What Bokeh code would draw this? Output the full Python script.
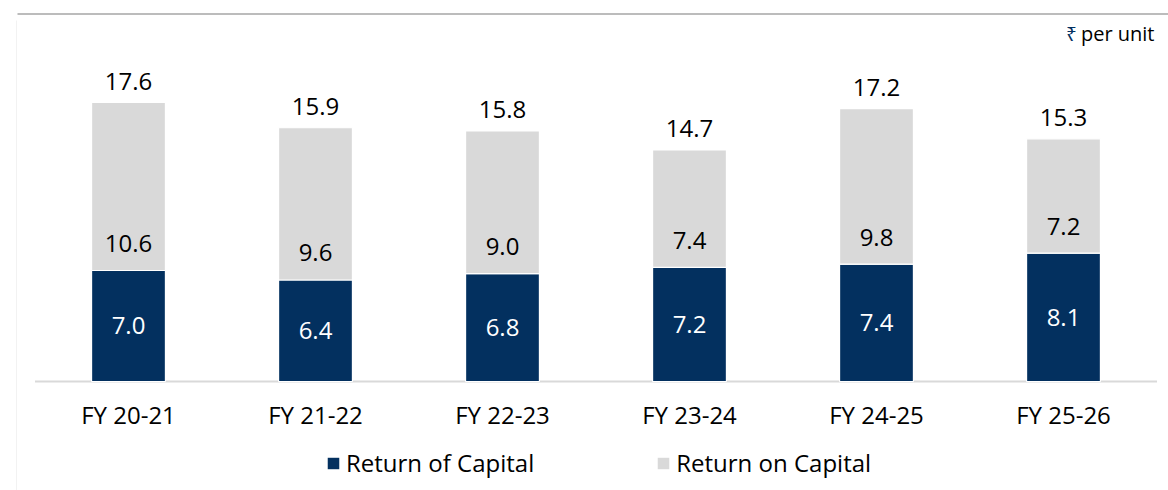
from bokeh.plotting import figure
from bokeh.models import ColumnDataSource, Range1d, FixedTicker, Label, Legend
from bokeh.core.properties import value
from bokeh.embed import file_html
from bokeh.resources import INLINE

categories = ["FY 20-21", "FY 21-22", "FY 22-23", "FY 23-24", "FY 24-25", "FY 25-26"]
return_of_capital = [7.0, 6.4, 6.8, 7.2, 7.4, 8.1]
return_on_capital = [10.6, 9.6, 9.0, 7.4, 9.8, 7.2]
totals = [17.6, 15.9, 15.8, 14.7, 17.2, 15.3]

NAVY = "#03305F"
GRAY = "#D9D9D9"
FONT = "Open Sans"

W, H = 1168, 490
zero_px = 381.0          # screen row of the value 0
px_per_unit = 15.86
cat_px = 187.0
first_center = 128.0

xs = list(range(len(categories)))
tops = [a + b for a, b in zip(return_of_capital, return_on_capital)]
src = ColumnDataSource(dict(
    x=xs,
    roc=return_of_capital,
    ron=return_on_capital,
    roc_mid=[v / 2 for v in return_of_capital],
    top=tops,
    roc_lbl=[f"{v:.1f}" for v in return_of_capital],
    ron_lbl=[f"{v:.1f}" for v in return_on_capital],
    tot_lbl=[f"{v:.1f}" for v in totals],
))

x_start = -first_center / cat_px
x_end = (W - first_center) / cat_px
y_start = (zero_px - H) / px_per_unit
y_end = zero_px / px_per_unit

p = figure(width=W, height=H, output_backend="svg", toolbar_location=None,
           x_range=Range1d(x_start, x_end), y_range=Range1d(y_start, y_end),
           y_axis_location=None, min_border_left=0, min_border_right=0,
           min_border_top=0, min_border_bottom=0)
p.outline_line_color = None
p.grid.visible = False
p.background_fill_color = "white"
p.border_fill_color = "white"


def px_to_x(px):
    return (px - first_center) / cat_px


def py_to_y(py):
    return (zero_px - py) / px_per_unit


# top rule and faint left border
p.segment(x0=[px_to_x(17)], y0=[py_to_y(13.5)], x1=[x_end], y1=[py_to_y(13.5)],
          line_color="#A6A6A6", line_width=1.6)
p.segment(x0=[px_to_x(16)], y0=[py_to_y(20)], x1=[px_to_x(16)], y1=[y_start],
          line_color="#F2F2F2", line_width=1)

# baseline
p.segment(x0=[-0.5], y0=[0], x1=[len(categories) - 0.5], y1=[0],
          line_color="#D9D9D9", line_width=2)

r = p.vbar_stack(["roc", "ron"], x="x", width=0.395, color=[NAVY, GRAY],
                 line_color="white", line_width=1.2, source=src)

p.text(x="x", y="roc_mid", text="roc_lbl", source=src, text_color="white",
       text_font=value(FONT), text_font_size="24px", text_align="center",
       text_baseline="middle")
p.text(x="x", y="roc", text="ron_lbl", source=src, text_color="black",
       text_font=value(FONT), text_font_size="24px", text_align="center",
       text_baseline="middle", y_offset=-27)
p.text(x="x", y="top", text="tot_lbl", source=src, text_color="black",
       text_font=value(FONT), text_font_size="24px", text_align="center",
       text_baseline="middle", y_offset=-21)

ax = p.xaxis[0]
ax.fixed_location = 0
ax.ticker = FixedTicker(ticks=xs)
ax.major_label_overrides = {i: c for i, c in enumerate(categories)}
ax.axis_line_color = None
ax.major_tick_line_color = None
ax.minor_tick_line_color = None
ax.major_tick_out = 0
ax.major_tick_in = 0
ax.major_label_text_font = FONT
ax.major_label_text_font_size = "24px"
ax.major_label_text_color = "black"
ax.major_label_standoff = 16

legend = Legend(items=[("Return of Capital", [r[0]]), ("Return on Capital", [r[1]])],
                orientation="horizontal", location=(325, 11),
                glyph_width=16, glyph_height=16, label_standoff=5, spacing=121,
                padding=0, margin=0, border_line_color=None,
                background_fill_alpha=0, label_text_font=FONT,
                label_text_font_size="24px", label_text_color="black")
p.add_layout(legend, "center")

p.add_layout(Label(x=1071, y=H - 33, x_units="screen", y_units="screen",
                   text="₹", text_font="Noto Sans", text_font_size="19px",
                   text_color=NAVY, text_align="center", text_baseline="middle"))
p.add_layout(Label(x=1154, y=H - 33, x_units="screen", y_units="screen",
                   text="per unit", text_font=FONT, text_font_size="20px",
                   text_color="black", text_align="right", text_baseline="middle"))

open("out.html", "w").write(file_html(p, INLINE))
